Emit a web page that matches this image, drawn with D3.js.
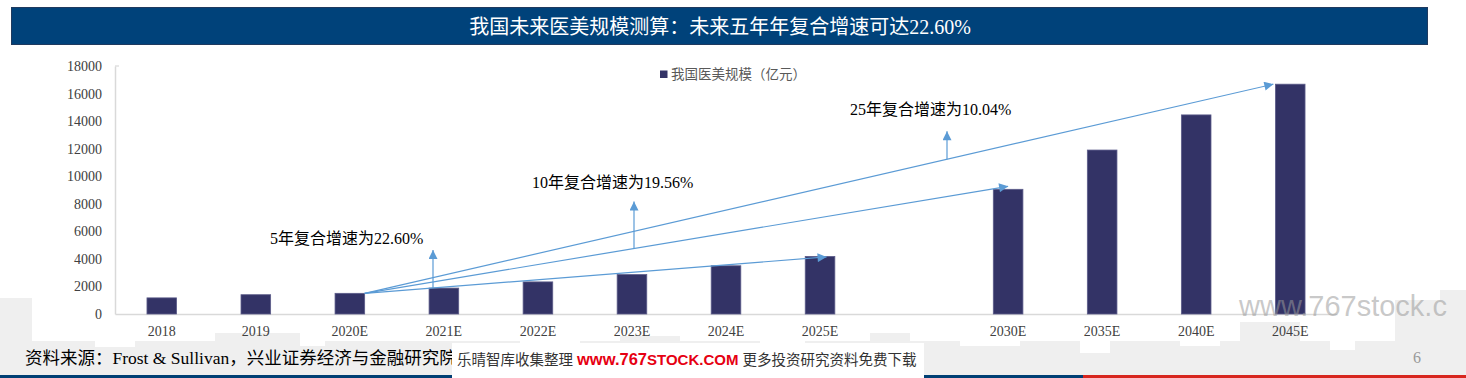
<!DOCTYPE html>
<html><head><meta charset="utf-8">
<script src="https://cdn.jsdelivr.net/npm/d3@7"></script>
<style>
html,body{margin:0;padding:0;background:#fff;}
svg{display:block;}
</style></head>
<body>
<svg id="chart" width="1466" height="378"></svg>
<script>
// ---------- data ----------
const categories = ["2018","2019","2020E","2021E","2022E","2023E","2024E","2025E","2030E","2035E","2040E","2045E"];
const values = [1170, 1400, 1500, 1880, 2330, 2860, 3500, 4180, 9050, 11900, 14450, 16680];
const yTicks = [0,2000,4000,6000,8000,10000,12000,14000,16000,18000];
const seriesName = "我国医美规模（亿元）";
const titleText = "我国未来医美规模测算：未来五年年复合增速可达22.60%";
const cagrLabels = ["5年复合增速为22.60%","10年复合增速为19.56%","25年复合增速为10.04%"];
const cagrFrom = "2020E";
const cagrTo = ["2025E","2030E","2045E"];
const sourceText = "资料来源：Frost & Sullivan，兴业证券经济与金融研究院";

const svg = d3.select("#chart");
const serif = "'Liberation Serif','Times New Roman','Noto Sans CJK SC',serif";
const sans = "'Liberation Sans','Noto Sans CJK SC',sans-serif";

// ---------- background skyline ----------
const bg = svg.append("g").attr("fill","#efefef");
bg.append("rect").attr("x",0).attr("y",341).attr("width",1466).attr("height",37);
[[0,298,32,45],[1395,300,71,45],[1440,290,26,55],[1240,322,60,20],[215,333,85,10],[870,333,40,10],[620,336,60,7]].forEach(r=>{
  bg.append("rect").attr("x",r[0]).attr("y",r[1]).attr("width",r[2]).attr("height",r[3]);
});
const wn = svg.append("g").attr("fill","#fff");
[[95,341,40,6],[300,341,25,5],[520,341,60,4],[760,341,45,6],[960,341,60,5],[1080,341,30,12],[1180,341,40,5],[1330,341,25,9]].forEach(r=>{
  wn.append("rect").attr("x",r[0]).attr("y",r[1]).attr("width",r[2]).attr("height",r[3]);
});

// ---------- title bar ----------
svg.append("rect").attr("x",11.5).attr("y",7.5).attr("width",1416).attr("height",37)
  .attr("fill","#00427a").attr("stroke","#1f3a5f").attr("stroke-width",1);
svg.append("text").attr("x",720).attr("y",34).attr("text-anchor","middle")
  .attr("font-family",serif).attr("font-size",20).attr("fill","#fff").text(titleText);

// ---------- scales ----------
const domain = [...categories.slice(0,8), "__gap__", ...categories.slice(8)];
const x = d3.scaleBand().domain(domain).range([115,1337]).paddingInner(0.685).paddingOuter(0.34);
const y = d3.scaleLinear().domain([0,18000]).range([314,66]);
const bw = x.bandwidth();

// ---------- axes ----------
const yAxis = d3.axisLeft(y).tickValues(yTicks).tickSize(0).tickPadding(13).tickFormat(d3.format("d"));
const gy = svg.append("g").attr("transform","translate(115,0)").call(yAxis);
gy.select(".domain").attr("stroke","#d9d9d9").attr("stroke-width",1.5);
gy.selectAll("text").attr("font-family",serif).attr("font-size",14).attr("fill","#404040");
gy.append("line").attr("x1",0).attr("x2",4).attr("y1",y(18000)).attr("y2",y(18000)).attr("stroke","#d9d9d9").attr("stroke-width",1.2);

const xAxis = d3.axisBottom(x).tickValues(categories).tickSize(0).tickPadding(12);
const gx = svg.append("g").attr("transform","translate(0,314)").call(xAxis);
gx.select(".domain").attr("stroke","#d9d9d9").attr("stroke-width",1.5);
gx.selectAll("text").attr("font-family",serif).attr("font-size",14).attr("fill","#404040");

// ---------- bars ----------
svg.append("g").selectAll("rect").data(categories).join("rect")
  .attr("x",d=>x(d)).attr("width",bw)
  .attr("y",(d,i)=>y(values[i])).attr("height",(d,i)=>y(0)-y(values[i]))
  .attr("fill","#333366").attr("stroke","#5c5c8a").attr("stroke-width",0.8);

// ---------- legend ----------
svg.append("rect").attr("x",660).attr("y",70.5).attr("width",7.5).attr("height",7.5).attr("fill","#333366");
svg.append("text").attr("x",671).attr("y",79).attr("font-family",serif).attr("font-size",13.5)
  .attr("fill","#595959").text(seriesName);

// ---------- CAGR arrows ----------
const arrowColor = "#5b9bd5";
const defs = svg.append("defs");
defs.append("marker").attr("id","ah").attr("viewBox","0 0 10 10").attr("refX",10).attr("refY",5)
  .attr("markerWidth",11).attr("markerHeight",9).attr("markerUnits","userSpaceOnUse").attr("orient","auto")
  .append("path").attr("d","M0,0 L10,5 L0,10 Z").attr("fill",arrowColor);

const iFrom = categories.indexOf(cagrFrom);
const p0 = [x(cagrFrom)+bw, y(values[iFrom])];
const tipFrac = [0.72, 0.5, -0.07];
const tipDy = [0.5, -3, 0];
const ends = cagrTo.map((c,k)=>{
  const i = categories.indexOf(c);
  return [x(c)+tipFrac[k]*bw, y(values[i])+tipDy[k]];
});
const ga = svg.append("g").attr("stroke",arrowColor).attr("stroke-width",1.2).attr("fill","none");
ends.forEach(e=>{
  ga.append("line").attr("x1",p0[0]).attr("y1",p0[1]).attr("x2",e[0]).attr("y2",e[1]).attr("marker-end","url(#ah)");
});
// vertical pointer arrows
const vx = [433, 634, 947];
const vLen = [38, 47, 28];
vx.forEach((vxi,k)=>{
  const e = ends[k];
  const yb = p0[1] + (e[1]-p0[1])*(vxi-p0[0])/(e[0]-p0[0]);
  ga.append("line").attr("x1",vxi).attr("y1",yb).attr("x2",vxi).attr("y2",yb-vLen[k]).attr("marker-end","url(#ah)");
});
// labels
const lx = [270, 532, 850];
const ly = [244, 188, 115];
cagrLabels.forEach((t,k)=>{
  svg.append("text").attr("x",lx[k]).attr("y",ly[k]).attr("font-family",serif).attr("font-size",16)
    .attr("fill","#000").text(t);
});

// ---------- watermark text ----------
svg.append("text").attr("x",1239).attr("y",316).attr("font-family",sans).attr("font-size",29)
  .attr("fill","#9a9a9a").attr("fill-opacity",0.55).text("www.767stock.c");

// ---------- footer ----------
svg.append("rect").attr("x",0).attr("y",375).attr("width",1083).attr("height",3).attr("fill","#003f74");
svg.append("rect").attr("x",1083).attr("y",375).attr("width",383).attr("height",3).attr("fill","#d7261e");
svg.append("text").attr("x",25).attr("y",364).attr("font-family",serif).attr("font-size",17.5)
  .attr("fill","#000").text(sourceText);
svg.append("rect").attr("x",452).attr("y",343).attr("width",472).attr("height",35).attr("fill","#fff");
const wm = svg.append("text").attr("x",457).attr("y",365).attr("font-family",sans).attr("font-size",14.5);
wm.append("tspan").attr("fill","#333").text("乐晴智库收集整理 ");
wm.append("tspan").attr("fill","#e60012").attr("font-weight","bold").attr("font-size",16.5).text("www.767");
wm.append("tspan").attr("fill","#e60012").attr("font-weight","bold").attr("font-size",15).text("STOCK.COM");
wm.append("tspan").attr("fill","#333").text(" 更多投资研究资料免费下载");
svg.append("text").attr("x",1413).attr("y",363).attr("font-family",serif).attr("font-size",16)
  .attr("fill","#999").text("6");
</script>
</body></html>
